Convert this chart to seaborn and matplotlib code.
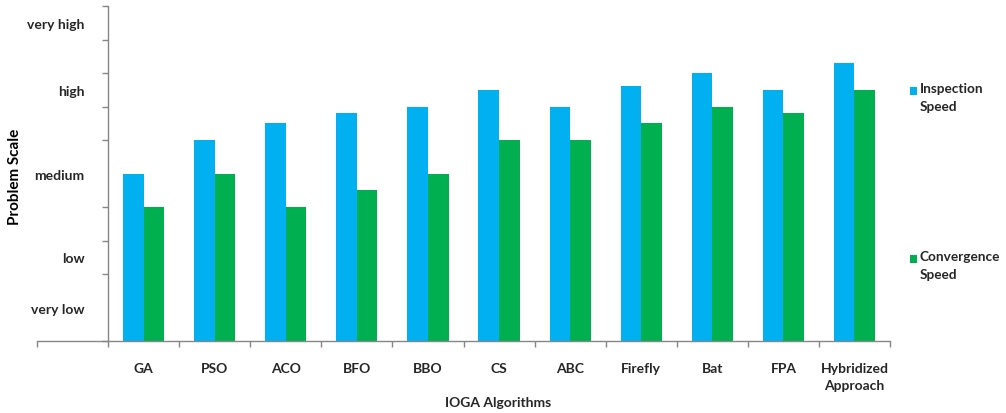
import matplotlib
matplotlib.use("Agg")
import matplotlib.pyplot as plt
import seaborn as sns
import pandas as pd
from matplotlib.patches import Rectangle

algorithms = ["GA", "PSO", "ACO", "BFO", "BBO", "CS", "ABC", "Firefly", "Bat", "FPA",
              "Hybridized\nApproach"]
inspection_speed = [5.0, 6.0, 6.5, 6.8, 7.0, 7.5, 7.0, 7.6, 8.0, 7.5, 8.3]
convergence_speed = [4.0, 5.0, 4.0, 4.5, 5.0, 6.0, 6.0, 6.5, 7.0, 6.8, 7.5]
series_names = ["Inspection\nSpeed", "Convergence\nSpeed"]
scale_labels = ["very low", "low", "medium", "high", "very high"]
scale_positions = [1.0, 2.5, 5.0, 7.5, 9.5]
colors = ["#00B0F0", "#00B050"]

df = pd.DataFrame({
    "Algorithm": algorithms * 2,
    "Value": inspection_speed + convergence_speed,
    "Series": [series_names[0]] * len(algorithms) + [series_names[1]] * len(algorithms),
})

sns.set_theme(style="white")
plt.rcParams["font.family"] = ["Lato", "DejaVu Sans"]

fig = plt.figure(figsize=(10.06, 4.14), dpi=100)
ax = fig.add_axes([37 / 1006, 72 / 414, 853 / 1006, 335 / 414])

sns.barplot(data=df, x="Algorithm", y="Value", hue="Series", order=algorithms,
            hue_order=series_names, palette=colors, width=0.58, saturation=1,
            legend=False, ax=ax, linewidth=0)

ax.set_xlim(-1.5, len(algorithms) - 0.5)
ax.set_ylim(0, 10)

spine_color = "#868686"
for s in ["top", "right"]:
    ax.spines[s].set_visible(False)
ax.spines["left"].set_position(("data", -0.5))
ax.spines["left"].set_color(spine_color)
ax.spines["bottom"].set_color(spine_color)
ax.spines["left"].set_linewidth(1.0)
ax.spines["bottom"].set_linewidth(1.0)

# y axis: minor tick marks at integers, labels at scale positions
ax.set_yticks(scale_positions)
ax.set_yticklabels(scale_labels)
ax.set_yticks(list(range(0, 11)), minor=True)
ax.tick_params(axis="y", which="major", length=0, pad=17, labelsize=10,
               labelcolor="#262626")
ax.tick_params(axis="y", which="minor", left=True, length=4, width=1, color=spine_color)
for lbl in ax.get_yticklabels():
    lbl.set_fontweight("bold")

# x axis: labels at centres, tick marks at category boundaries
ax.set_xticks(list(range(len(algorithms))))
ax.set_xticklabels(algorithms, fontweight="bold", linespacing=1.55)
ax.set_xticks([i - 0.5 for i in range(-1, len(algorithms) + 1)], minor=True)
ax.tick_params(axis="x", which="major", length=0, pad=15, labelsize=10,
               labelcolor="#262626")
ax.tick_params(axis="x", which="minor", bottom=True, length=4, width=1, color=spine_color)

ax.set_xlabel("")
ax.set_ylabel("")
fig.text(498 / 1006, 1 - 403 / 414, "IOGA Algorithms", ha="center", va="center",
         fontsize=10, fontweight="bold", color="#262626")
fig.text(15 / 1006, 1 - 177 / 414, "Problem Scale", ha="center", va="center",
         rotation=90, fontsize=11, fontweight="bold", color="black")

# legend (manual, to keep the handle next to the first line of text)
legend_rows = [92, 260]
for name, col, ypix in zip(series_names, colors, legend_rows):
    fig.patches.append(Rectangle((910 / 1006, 1 - (ypix + 4) / 414), 7 / 1006, 8 / 414,
                                 transform=fig.transFigure, facecolor=col,
                                 edgecolor="none"))
    fig.text(920 / 1006, 1 - (ypix - 9) / 414, name, ha="left", va="top",
             fontsize=9.8, fontweight="bold", color="#262626", linespacing=1.6)

fig.savefig("out.png", dpi=100)
